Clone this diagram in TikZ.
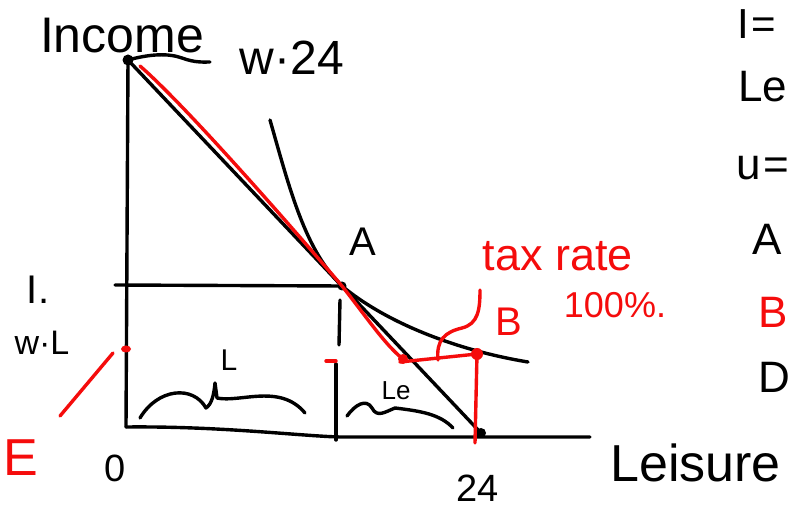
\documentclass[tikz,border=0pt]{standalone}
\usepackage{fontspec}
\setmainfont{Liberation Sans}
\definecolor{penred}{RGB}{245,12,12}
\begin{document}
\begin{tikzpicture}[x=1pt,y=-1pt,
  ink/.style={line width=3.4pt,line cap=round,line join=round},
  redink/.style={ink,draw=penred},
  lab/.style={inner sep=0pt,font=\fontsize{#1}{#1}\selectfont},
  rlab/.style={lab=#1,text=penred}]
\useasboundingbox (0,0) rectangle (793,510);
\clip (0,0) rectangle (793,510);
\fill[white] (0,0) rectangle (793,510);
% key points
\coordinate (Ytop) at (128,60);
\coordinate (O) at (126,427);
\coordinate (X24) at (481,433);
\coordinate (A) at (342,286);
\coordinate (Kink) at (403,359);
\coordinate (B) at (477,354);
% axes
\draw[ink] (Ytop) -- (O);
\draw[ink] (O) .. controls (220,426) and (300,436) .. (340,437) -- (590,437);
% budget line
\draw[ink] (Ytop) -- (X24);
% pointer to w.24
\draw[ink] (Ytop) .. controls (150,54) and (168,53) .. (182,58) .. controls (195,63) and (205,62) .. (210,62);
% indifference curve
\draw[ink] (270,120) .. controls (290,190) and (305,250) .. (A) .. controls (385,322) and (455,350) .. (528,362);
% I. horizontal
\draw[ink] (115,285) -- (A);
% vertical at A
\draw[ink] (340,300) -- (339,345);
\draw[ink] (336,364) -- (336,440);
% L brace
\draw[ink] (140,418) .. controls (158,388) and (193,385) .. (206,408) .. controls (212,404) and (214,394) .. (215,383) -- (217,398) .. controls (240,403) and (280,383) .. (305,413);
% Le brace
\draw[ink] (347,416) .. controls (355,405) and (366,398) .. (372,408) .. controls (377,418) and (385,412) .. (395,408) .. controls (420,411) and (440,414) .. (453,428);
% dots
\fill (Ytop) circle (5.5);
\fill (A) circle (4.5);
\fill (X24) circle (5);
% red budget line
\draw[redink] (140,66) .. controls (185,105) and (290,225) .. (A) .. controls (365,315) and (385,345) .. (Kink) -- (400,362) -- (B);
\draw[redink] (B) -- (475,443);
\fill[penred] (Kink) circle (5);
\fill[penred] (B) circle (6);
% red loop from B to label
\draw[redink] (438,360) .. controls (436,340) and (445,332) .. (462,328) .. controls (478,324) and (480,310) .. (480,290);
% red marks
\fill[penred] (126,349) ellipse (5 and 3.5);
\draw[redink] (326,361) -- (336,361);
\draw[redink] (113,353) -- (60,416);
% labels
\node[lab=50] (tIncome) at (122,36) {Income};
\node[lab=48] (tw24) at (292,58) {w·24};
\node[lab=40] (tI) at (38,290) {I.};
\node[lab=34] (twL) at (42,343) {w·L};
\node[rlab=52] (tE) at (21,458) {E};
\node[lab=38] (t0) at (115,468) {0};
\node[lab=38] (t24) at (478,488) {24};
\node[lab=52,anchor=west] (tLeisure) at (610,463) {Leisure};
\node[lab=40] (tA) at (363,242) {A};
\node[rlab=40] (tB) at (509,322) {B};
\node[lab=30] (tL) at (229,360) {L};
\node[lab=26] (tLe) at (396,391) {Le};
\node[rlab=45] (ttax) at (558,256) {tax rate};
\node[rlab=36] (t100) at (615,305) {100\%.};
% right column
\node[lab=42,anchor=west] (rI) at (737,24) {I\hspace{3pt}=};
\node[lab=44,anchor=west] (rLe) at (738,87) {Le};
\node[lab=44,anchor=west] (ru) at (736,168) {u\hspace{3pt}=};
\node[lab=44,anchor=west] (rA) at (752,239) {A};
\node[rlab=44,anchor=west] (rB) at (758,312) {B};
\node[lab=44,anchor=west] (rD) at (758,377) {D};
\end{tikzpicture}
\end{document}
